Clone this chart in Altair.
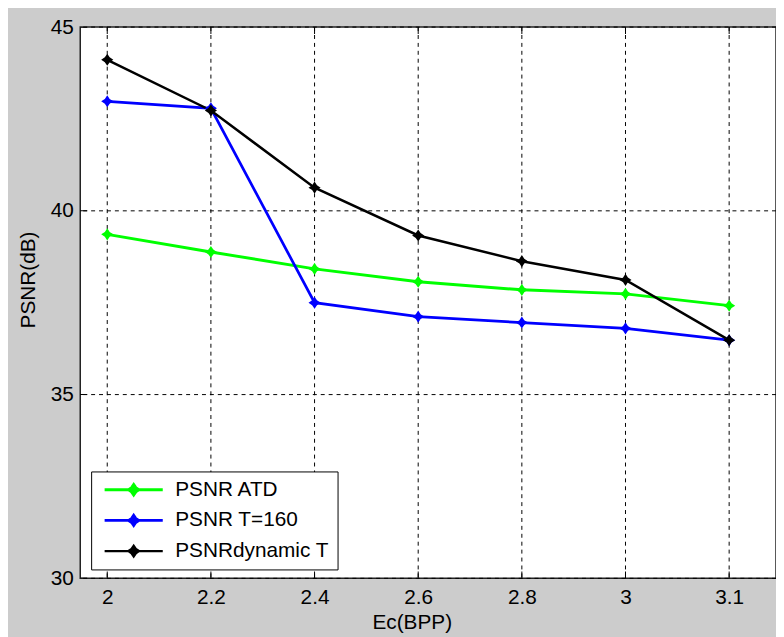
import altair as alt
import pandas as pd

# ---- data ----
x_labels = ["2", "2.2", "2.4", "2.6", "2.8", "3", "3.1"]
series_names = ["PSNR ATD", "PSNR T=160", "PSNRdynamic T"]
psnr_atd = [39.36, 38.88, 38.42, 38.07, 37.85, 37.74, 37.42]
psnr_t160 = [42.98, 42.79, 37.50, 37.12, 36.96, 36.80, 36.48]
psnr_dyn = [44.11, 42.73, 40.63, 39.33, 38.63, 38.12, 36.48]
y_ticks = [30, 35, 40, 45]

colors = ["#00ff00", "#0000ff", "#000000"]
widths = [3.0, 2.5, 3.5]
FONT = "Liberation Sans"
FS = 21

X_MIN, X_MAX = -0.2605, 6.452
Y_MIN, Y_MAX = 30, 45

rows = []
for k, (name, vals) in enumerate(zip(series_names, [psnr_atd, psnr_t160, psnr_dyn])):
    for i, v in enumerate(vals):
        rows.append({"series": name, "i": i, "psnr": v, "k": k})
df = pd.DataFrame(rows)
xtick_df = pd.DataFrame({"i": list(range(len(x_labels)))})
ytick_df = pd.DataFrame({"psnr": y_ticks})

xscale = alt.Scale(domain=[X_MIN, X_MAX], nice=False, zero=False)
yscale = alt.Scale(domain=[Y_MIN, Y_MAX], nice=False, zero=False)
cscale = alt.Scale(domain=series_names, range=colors)

js_labels = "[" + ",".join("'" + s + "'" for s in x_labels) + "]"

STAR = "M0,-1L0.4,-0.4L1,0L0.4,0.4L0,1L-0.4,0.4L-1,0L-0.4,-0.4Z"
LEG_SYMBOL = "M-5.6,0L5.6,0" + STAR

TL = 14  # tick mark length (half is clipped away -> inward ticks)

# the same axis objects are used in every layer so that they merge cleanly
x_axis = alt.Axis(orient="bottom", values=list(range(len(x_labels))),
                  labelExpr=js_labels + "[datum.value]",
                  tickSize=0, domain=False, grid=False, labelPadding=8,
                  labelFlush=False, labelOverlap=False,
                  labelFont=FONT, labelFontSize=FS, labelColor="black",
                  title="Ec(BPP)", titleX=335, titleY=51,
                  titleFont=FONT, titleFontSize=FS, titleFontWeight="normal",
                  titleColor="black",
                  titleBaseline="alphabetic", titleAlign="center")
y_axis = alt.Axis(orient="left", values=y_ticks, tickSize=0, domain=False, grid=False,
                  labelPadding=7, labelFlush=False,
                  labelFont=FONT, labelFontSize=FS, labelColor="black",
                  title="PSNR(dB)", titleX=-52, titleY=255, titleAngle=270,
                  titleAlign="center", titleBaseline="middle",
                  titleFont=FONT, titleFontSize=FS, titleFontWeight="normal",
                  titleColor="black")

grid_style = dict(color="black", strokeDash=[4, 4], strokeWidth=1)

xgrid = alt.Chart(xtick_df).mark_rule(**grid_style).encode(
    x=alt.X("i:Q", scale=xscale, axis=x_axis)
)
ygrid = alt.Chart(ytick_df).mark_rule(**grid_style).encode(
    y=alt.Y("psnr:Q", scale=yscale, axis=y_axis)
)

# inward tick marks on the bottom, top and left edges
tick_style = dict(color="black", thickness=1, size=TL, clip=True, opacity=1)
xticks_bottom = alt.Chart(xtick_df).mark_tick(orient="vertical", **tick_style).encode(
    x=alt.X("i:Q", scale=xscale, axis=x_axis),
    y=alt.datum(Y_MIN, scale=yscale, axis=y_axis),
)
xticks_top = alt.Chart(xtick_df).mark_tick(orient="vertical", **tick_style).encode(
    x=alt.X("i:Q", scale=xscale, axis=x_axis),
    y=alt.datum(Y_MAX, scale=yscale, axis=y_axis),
)
yticks_left = alt.Chart(ytick_df).mark_tick(orient="horizontal", **tick_style).encode(
    y=alt.Y("psnr:Q", scale=yscale, axis=y_axis),
    x=alt.datum(X_MIN, scale=xscale, axis=x_axis),
)

lines = alt.Chart(df).mark_line().encode(
    x=alt.X("i:Q", scale=xscale, axis=x_axis),
    y=alt.Y("psnr:Q", scale=yscale, axis=y_axis),
    color=alt.Color("series:N", scale=cscale, sort=series_names,
                    legend=alt.Legend(title=None, orient="none", legendX=11, legendY=449,
                                      direction="vertical", symbolType=LEG_SYMBOL,
                                      symbolSize=110, symbolStrokeWidth=2.5,
                                      symbolOffset=24.5,
                                      labelFont=FONT, labelFontSize=FS, labelColor="black",
                                      labelOffset=31.5, rowPadding=8, padding=8,
                                      strokeColor="black", fillColor="white")),
    strokeWidth=alt.StrokeWidth("series:N", scale=alt.Scale(domain=series_names, range=widths),
                                legend=None),
    detail="series:N",
    order="i:Q",
)

points = alt.Chart(df).mark_point(filled=True, shape=STAR, size=150, opacity=1).encode(
    x=alt.X("i:Q", scale=xscale, axis=x_axis),
    y=alt.Y("psnr:Q", scale=yscale, axis=y_axis),
    color=alt.Color("series:N", scale=cscale, legend=None),
)

chart = alt.layer(xgrid, ygrid, xticks_bottom, xticks_top, yticks_left, lines, points).properties(
    width=703, height=557,
    autosize=alt.AutoSizeParams(type="none"),
    padding={"left": 73, "top": 16, "right": 0, "bottom": 56},
    background="#cccccc",
).configure_view(
    fill="white", stroke="#222222", strokeWidth=1.5
)

chart.save("out.html", embed_options={"renderer": "svg", "actions": False})
